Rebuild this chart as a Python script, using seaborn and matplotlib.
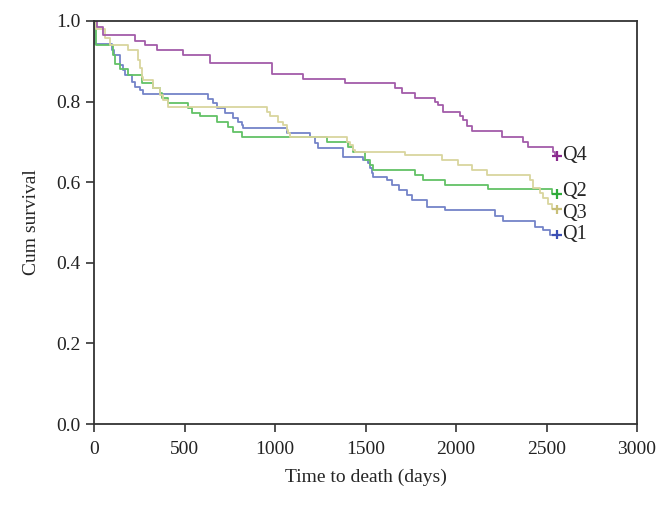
import pandas as pd
import matplotlib
matplotlib.use("Agg")
import matplotlib.pyplot as plt
import seaborn as sns

sns.set_theme(style="white")
plt.rcParams["font.family"] = ["Liberation Serif", "DejaVu Serif"]

# Kaplan-Meier steps (time in days, cumulative survival)
q1_time = [0, 5, 97, 110, 144, 162, 171, 208, 227, 254, 273, 630, 659, 678, 724, 770, 797, 816, 825, 1065,
           1193, 1221, 1235, 1378, 1488, 1516, 1525, 1534, 1543, 1617, 1645, 1682, 1728, 1755, 1838, 1939,
           2216, 2262, 2437, 2483, 2519, 2558]
q1_surv = [1.0, 0.942, 0.928, 0.916, 0.891, 0.878, 0.866, 0.849, 0.837, 0.829, 0.818, 0.806, 0.796, 0.783,
           0.771, 0.759, 0.750, 0.742, 0.734, 0.721, 0.713, 0.697, 0.686, 0.662, 0.655, 0.647, 0.634, 0.622,
           0.614, 0.605, 0.593, 0.581, 0.568, 0.556, 0.539, 0.530, 0.516, 0.504, 0.490, 0.481, 0.470, 0.470]

q2_time = [0, 8, 105, 116, 144, 190, 263, 328, 365, 374, 411, 521, 540, 586, 678, 742, 770, 816, 1286, 1405,
           1432, 1497, 1525, 1543, 1774, 1820, 1939, 2179, 2529, 2558]
q2_surv = [1.0, 0.940, 0.916, 0.893, 0.881, 0.866, 0.845, 0.833, 0.821, 0.808, 0.796, 0.783, 0.771, 0.763,
           0.750, 0.738, 0.725, 0.713, 0.700, 0.688, 0.676, 0.655, 0.643, 0.630, 0.618, 0.605, 0.593, 0.582,
           0.571, 0.571]

q3_time = [0, 10, 60, 88, 190, 245, 254, 263, 273, 328, 365, 383, 411, 954, 972, 1018, 1046, 1065, 1074, 1083,
           1396, 1414, 1433, 1442, 1718, 1921, 2013, 2087, 2170, 2409, 2427, 2464, 2483, 2510, 2530, 2558]
q3_surv = [1.0, 0.981, 0.957, 0.940, 0.928, 0.903, 0.883, 0.862, 0.854, 0.833, 0.816, 0.804, 0.787, 0.775,
           0.763, 0.750, 0.742, 0.730, 0.721, 0.713, 0.700, 0.692, 0.680, 0.676, 0.667, 0.655, 0.643, 0.630,
           0.618, 0.605, 0.585, 0.572, 0.560, 0.547, 0.533, 0.533]

q4_time = [0, 15, 52, 227, 282, 346, 492, 641, 985, 1156, 1387, 1663, 1700, 1774, 1884, 1902, 1930, 2022,
           2040, 2062, 2087, 2252, 2371, 2400, 2534, 2547, 2558]
q4_surv = [1.0, 0.985, 0.964, 0.951, 0.940, 0.928, 0.916, 0.895, 0.869, 0.856, 0.845, 0.833, 0.822, 0.808,
           0.800, 0.792, 0.775, 0.764, 0.753, 0.739, 0.727, 0.713, 0.700, 0.688, 0.676, 0.665, 0.665]

groups = ["Q1", "Q2", "Q3", "Q4"]
line_colors = {"Q1": "#7484c8", "Q2": "#62c266", "Q3": "#d9d59e", "Q4": "#a35ca9"}
mark_colors = {"Q1": "#3b4fb4", "Q2": "#2eaa3a", "Q3": "#c8bf78", "Q4": "#8a2a8e"}
# small vertical nudge (points) so the Q2 / Q3 labels do not collide
label_nudge = {"Q1": 0, "Q2": 2, "Q3": -3, "Q4": 0}

series = {"Q1": (q1_time, q1_surv), "Q2": (q2_time, q2_surv),
          "Q3": (q3_time, q3_surv), "Q4": (q4_time, q4_surv)}
frames = [pd.DataFrame({"time": t, "survival": s, "group": g}) for g, (t, s) in series.items()]
df = pd.concat(frames, ignore_index=True)
ends = df.groupby("group").tail(1)

fig = plt.figure(figsize=(6.72, 5.07), dpi=100)
ax = fig.add_axes([0.140, 0.1637, 0.808, 0.795])

sns.lineplot(data=df, x="time", y="survival", hue="group", hue_order=groups, palette=line_colors,
             estimator=None, drawstyle="steps-post", linewidth=1.3, legend=False, ax=ax)
sns.scatterplot(data=ends, x="time", y="survival", hue="group", hue_order=groups, palette=mark_colors,
                marker="+", s=45, linewidth=1.6, legend=False, ax=ax, zorder=5)

for _, row in ends.iterrows():
    ax.annotate(row["group"], (row["time"], row["survival"]), xytext=(4, label_nudge[row["group"]]),
                textcoords="offset points", fontsize=14.5, va="center", ha="left")

ax.set_xlim(0, 3000)
ax.set_ylim(0, 1.0)
ax.set_xticks([0, 500, 1000, 1500, 2000, 2500, 3000])
ax.set_yticks([0.0, 0.2, 0.4, 0.6, 0.8, 1.0])
ax.set_yticklabels(["0.0", "0.2", "0.4", "0.6", "0.8", "1.0"])
ax.set_xlabel("Time to death (days)", fontsize=14, labelpad=8)
ax.set_ylabel("Cum survival", fontsize=14, labelpad=12)
ax.tick_params(axis="both", direction="out", length=6, width=1.1, colors="#222222",
               labelsize=14, bottom=True, left=True)
ax.tick_params(axis="x", pad=6)
for sp in ax.spines.values():
    sp.set_color("#333333")
    sp.set_linewidth(1.3)
    sp.set_visible(True)
ax.grid(False)

fig.savefig("out.png", dpi=100)
